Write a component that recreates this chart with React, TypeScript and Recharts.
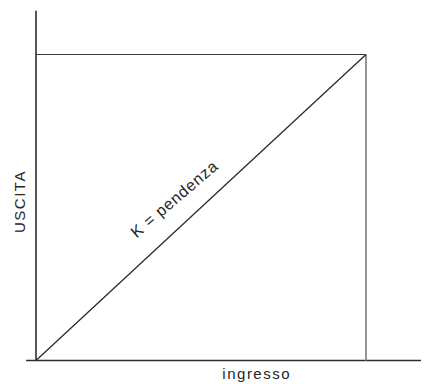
import React from "react";
import {
  ComposedChart,
  Line,
  XAxis,
  YAxis,
  ReferenceLine,
  ReferenceDot,
} from "recharts";

// transfer characteristic: ingresso -> uscita
const ingresso = [0, 6];
const uscita = [0, 7];
const yAxisTop = 8;
const xAxisStart = -0.18;
const xAxisEnd = 7;

const diagonal = ingresso.map((x, i) => ({ x, y: uscita[i] }));

const FONT = "'Liberation Sans', Arial, Helvetica, sans-serif";

const makeLabel =
  (text: string, angle: number, size: number, spacing: number) =>
  (props: any) => {
    const vb = props.viewBox || {};
    const cx = (vb.x ?? 0) + (vb.width ?? 0) / 2;
    const cy = (vb.y ?? 0) + (vb.height ?? 0) / 2;
    return (
      <text
        x={cx}
        y={cy}
        transform={`rotate(${angle} ${cx} ${cy})`}
        textAnchor="middle"
        fontFamily={FONT}
        fontSize={size}
        letterSpacing={spacing}
        fill="#262626"
      >
        {text}
      </text>
    );
  };

export default function App() {
  const maxX = ingresso[ingresso.length - 1];
  const maxY = uscita[uscita.length - 1];
  return (
    <div style={{ position: "absolute", left: 0, top: 0, background: "#fff" }}>
      <ComposedChart
        width={426}
        height={384}
        data={diagonal}
        margin={{ top: 0, right: 0, bottom: 0, left: 0 }}
      >
        <XAxis
          type="number"
          dataKey="x"
          domain={[-0.6545, 7.0909]}
          allowDataOverflow
          hide
        />
        <YAxis
          type="number"
          domain={[-0.5376, 8.247]}
          allowDataOverflow
          hide
        />
        {/* axes */}
        <ReferenceLine
          segment={[
            { x: 0, y: 0 },
            { x: 0, y: yAxisTop },
          ]}
          stroke="#2e2e2e"
          strokeWidth={1.6}
          ifOverflow="visible"
        />
        <ReferenceLine
          segment={[
            { x: xAxisStart, y: 0 },
            { x: xAxisEnd, y: 0 },
          ]}
          stroke="#2e2e2e"
          strokeWidth={1.6}
          ifOverflow="visible"
        />
        {/* frame */}
        <ReferenceLine
          segment={[
            { x: 0, y: maxY },
            { x: maxX, y: maxY },
          ]}
          stroke="#3a3a3a"
          strokeWidth={1.2}
          ifOverflow="visible"
        />
        <ReferenceLine
          segment={[
            { x: maxX, y: 0 },
            { x: maxX, y: maxY },
          ]}
          stroke="#8a8a8a"
          strokeWidth={1.8}
          ifOverflow="visible"
        />
        <Line
          type="linear"
          dataKey="y"
          stroke="#2a2a2a"
          strokeWidth={1.3}
          dot={false}
          activeDot={false}
          isAnimationActive={false}
        />
        {/* labels */}
        <ReferenceDot
          x={-0.2}
          y={3.637}
          r={1}
          fill="none"
          stroke="none"
          ifOverflow="visible"
          label={makeLabel("USCITA", -90, 15, 1.5)}
        />
        <ReferenceDot
          x={4.013}
          y={-0.412}
          r={1}
          fill="none"
          stroke="none"
          ifOverflow="visible"
          label={makeLabel("ingresso", 0, 15, 1.5)}
        />
        <ReferenceDot
          x={2.58}
          y={3.6}
          r={1}
          fill="none"
          stroke="none"
          ifOverflow="visible"
          label={makeLabel("K = pendenza", -40.5, 16, 0.8)}
        />
      </ComposedChart>
    </div>
  );
}
